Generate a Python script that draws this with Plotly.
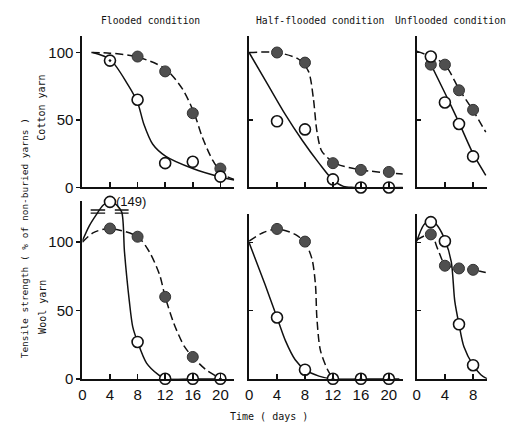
import plotly.graph_objects as go

W, H = 509, 430

# ---------------- data ----------------
# Panel A: flooded, cotton
A_open_x = [8, 12, 16, 20]
A_open_y = [65, 18, 19, 8]
A_fill_x = [8, 12, 16, 20]
A_fill_y = [97, 86, 55, 14]
A_both_x = [4]
A_both_y = [94]
A_solid_x = [1.5, 4, 6.5, 8, 8.9, 10.2, 12.1, 16, 19.8, 22]
A_solid_y = [100, 95, 77, 63, 47, 32, 23, 14, 8, 5.5]
A_dash_x = [1.3, 4, 7.8, 12, 14.5, 16.2, 17.4, 18.9, 20.3, 22]
A_dash_y = [100, 99.5, 97, 88, 73, 55, 37, 20, 10, 6]

# Panel B: half-flooded, cotton
B_open_x = [4, 8, 12, 16, 20]
B_open_y = [49, 43, 6, 0, 0]
B_fill_x = [4, 8, 12, 16, 20]
B_fill_y = [100, 92.5, 18, 13, 11.5]
B_solid_x = [0, 2.6, 5.2, 7.6, 10, 11.9, 13.5, 15, 22]
B_solid_y = [100, 77, 54, 35, 18, 6, 0.8, 0, 0]
B_dash_x = [0, 4, 7.1, 8.5, 9.2, 9.7, 10.4, 12.3, 16, 22]
B_dash_y = [100, 100, 95, 86, 66, 42, 27, 18, 13, 10]

# Panel C: unflooded, cotton
C_open_x = [2, 4, 6, 8]
C_open_y = [97, 63, 47, 23]
C_fill_x = [2, 4, 6, 8]
C_fill_y = [91, 91, 72, 57.5]
C_solid_x = [1.75, 4, 6, 8, 9.8]
C_solid_y = [94, 70, 48, 25, 9]
C_dash_x = [0, 2, 4, 6, 8, 9.8]
C_dash_y = [101, 97, 91, 73, 57, 41]

# Panel D: flooded, wool (open point at day 4 is 149, drawn at the axis top)
D_open_x = [4, 8, 12, 16]
D_open_y = [129.5, 27, 0, 0]
D_fill_x = [4, 8, 12, 16]
D_fill_y = [110, 104, 60, 16]
D_both_x = [20]
D_both_y = [0]
D_solid_x = [0, 1, 2, 3, 4, 5, 5.7, 6.1, 6.8, 7.3, 8, 9.3, 11, 12, 16, 20]
D_solid_y = [101, 112, 120, 127, 130, 127, 122, 93, 57, 38, 27, 11.5, 3, 0, 0, 0]
D_dash_x = [0, 1.6, 4, 8, 9.7, 11.2, 12, 13.3, 14.8, 16, 17.9, 19.7, 20]
D_dash_y = [100, 107, 110, 104, 93, 76, 60, 40, 23.5, 16, 6.7, 1, 0]
D_break_x = [[1.2, 3.3], [4.7, 6.7]]
D_break_y = [123.5, 121.3]
D_label = "(149)"

# Panel E: half-flooded, wool
E_open_x = [4, 8]
E_open_y = [45, 6.7]
E_fill_x = [4, 8]
E_fill_y = [110, 100.7]
E_both_x = [12, 16, 20]
E_both_y = [0, 0, 0]
E_solid_x = [0, 2.3, 4, 5.2, 6.6, 8, 10, 12, 16, 20, 21.5]
E_solid_y = [100, 69, 45, 28, 14, 6.7, 2, 0, 0, 0, 0]
E_dash_x = [0, 1.9, 4, 6.6, 8, 9, 9.5, 9.7, 10.2, 11.2, 12]
E_dash_y = [101, 107, 110, 106, 100, 88, 69, 45, 21, 7, 0]

# Panel F: unflooded, wool
F_open_x = [2, 4, 6, 8]
F_open_y = [115, 101, 40, 10]
F_fill_x = [2, 4, 6, 8]
F_fill_y = [106, 83, 81, 80]
F_solid_x = [0, 1, 2, 3, 4, 4.9, 5.4, 6, 6.7, 8, 9.1, 10]
F_solid_y = [101, 113, 117, 112, 102, 86, 57, 40, 23.5, 10, 3, 0]
F_dash_x = [0, 2, 3, 4, 6, 8, 9.8]
F_dash_y = [102, 106, 95, 84, 81, 80, 78]

titles = ["Flooded condition", "Half-flooded condition", "Unflooded condition"]
row_labels = ["Cotton yarn", "Wool yarn"]
y_title = "Tensile strength ( % of non-buried yarns )"
x_title = "Time ( days )"
y_ticks = [0, 50, 100]
x_ticks_long = [0, 4, 8, 12, 16, 20]
x_ticks_short = [0, 4, 8]

# ---------------- layout helpers (window pixel -> paper) ----------------
def px_x(p):
    return p / W

def px_y(p):
    return 1 - p / H

INK = "#111111"
FILL = "#4f4f4f"
MONO = "DejaVu Sans Mono"
SANS = "Liberation Sans"

fig = go.Figure()

panels = [
    ("A", "", A_open_x, A_open_y, A_fill_x, A_fill_y, A_both_x, A_both_y, A_solid_x, A_solid_y, A_dash_x, A_dash_y),
    ("B", "2", B_open_x, B_open_y, B_fill_x, B_fill_y, [], [], B_solid_x, B_solid_y, B_dash_x, B_dash_y),
    ("C", "3", C_open_x, C_open_y, C_fill_x, C_fill_y, [], [], C_solid_x, C_solid_y, C_dash_x, C_dash_y),
    ("D", "4", D_open_x, D_open_y, D_fill_x, D_fill_y, D_both_x, D_both_y, D_solid_x, D_solid_y, D_dash_x, D_dash_y),
    ("E", "5", E_open_x, E_open_y, E_fill_x, E_fill_y, E_both_x, E_both_y, E_solid_x, E_solid_y, E_dash_x, E_dash_y),
    ("F", "6", F_open_x, F_open_y, F_fill_x, F_fill_y, [], [], F_solid_x, F_solid_y, F_dash_x, F_dash_y),
]

for (name, s, ox, oy, fx, fy, bx, by, sx, sy, dx, dy) in panels:
    xa, ya = "x" + s, "y" + s
    fig.add_trace(go.Scatter(x=sx, y=sy, mode="lines", xaxis=xa, yaxis=ya,
                             line=dict(color=INK, width=1.5, shape="spline", smoothing=0.8),
                             showlegend=False, hoverinfo="skip"))
    fig.add_trace(go.Scatter(x=dx, y=dy, mode="lines", xaxis=xa, yaxis=ya,
                             line=dict(color=INK, width=1.5, dash="8px,4px", shape="spline", smoothing=0.8),
                             showlegend=False, hoverinfo="skip"))
    if name == "D":
        bxs, bys = [], []
        for seg in D_break_x:
            for yv in D_break_y:
                bxs += [seg[0], seg[1], None]
                bys += [yv, yv, None]
        fig.add_trace(go.Scatter(x=bxs, y=bys, mode="lines", xaxis=xa, yaxis=ya,
                                 line=dict(color=INK, width=1.4), showlegend=False,
                                 hoverinfo="skip", cliponaxis=False))
    fig.add_trace(go.Scatter(x=fx, y=fy, mode="markers", xaxis=xa, yaxis=ya, cliponaxis=False,
                             marker=dict(symbol="circle", size=11, color=FILL,
                                         line=dict(color="#333333", width=1)),
                             showlegend=False))
    fig.add_trace(go.Scatter(x=ox, y=oy, mode="markers", xaxis=xa, yaxis=ya, cliponaxis=False,
                             marker=dict(symbol="circle", size=11, color="white",
                                         line=dict(color=INK, width=1.6)),
                             showlegend=False))
    if bx:
        fig.add_trace(go.Scatter(x=bx, y=by, mode="markers", xaxis=xa, yaxis=ya, cliponaxis=False,
                                 marker=dict(symbol="circle-dot", size=11, color="white",
                                             line=dict(color=INK, width=1.6)),
                                 showlegend=False))

# ---------------- axes ----------------
xdom = [[79, 232], [247, 402], [416, 487]]
xrng = [[0, 22], [0, 22], [0, 10]]
top_dom = [37, 191]
bot_doms = [[205, 386], [218, 386], [218, 386]]
bot_rng = [[0, 130], [0, 121], [0, 121]]

def axis_common():
    return dict(showline=True, linecolor=INK, linewidth=2, showgrid=False, zeroline=False,
                mirror=False, fixedrange=True)

layout = {}
for i in range(6):
    col = i % 3
    row = i // 3
    s = "" if i == 0 else str(i + 1)
    xk, yk = "xaxis" + s, "yaxis" + s
    xa = axis_common()
    xa.update(domain=[px_x(xdom[col][0]), px_x(xdom[col][1])], range=xrng[col],
              anchor="y" + s, ticks="inside", ticklen=5, tickwidth=1.5, tickcolor=INK)
    xt = x_ticks_short if col == 2 else x_ticks_long
    xa.update(tickvals=xt, ticktext=[str(v) for v in xt])
    if row == 1:
        xa.update(showticklabels=True, tickfont=dict(family=SANS, size=15, color=INK),
                  ticklabelstandoff=1)
    else:
        xa.update(showticklabels=False)
    ya = axis_common()
    if row == 0:
        ya.update(domain=[px_y(top_dom[1]), px_y(top_dom[0])], range=[0, 112])
    else:
        d = bot_doms[col]
        ya.update(domain=[px_y(d[1]), px_y(d[0])], range=bot_rng[col])
    ya.update(anchor="x" + s)
    if col == 0:
        ya.update(tickvals=y_ticks, ticktext=[str(v) for v in y_ticks], ticks="outside",
                  ticklen=4, tickwidth=1.5, tickcolor=INK, showticklabels=True,
                  tickfont=dict(family=SANS, size=15, color=INK), ticklabelstandoff=0)
    else:
        ya.update(tickvals=y_ticks[1:], ticks="inside", ticklen=4, tickwidth=1.5,
                  tickcolor=INK, showticklabels=False)
    layout[xk] = xa
    layout[yk] = ya

annotations = []
title_cx = [148, 318, 450]
for t, cx in zip(titles, title_cx):
    annotations.append(dict(text=t, x=px_x(cx), y=px_y(21), xref="paper", yref="paper",
                            showarrow=False, xanchor="center", yanchor="middle",
                            font=dict(family=MONO, size=9.7, color=INK)))
annotations.append(dict(text=row_labels[0], x=px_x(38), y=px_y(110), xref="paper", yref="paper",
                        showarrow=False, textangle=-90, xanchor="center", yanchor="middle",
                        font=dict(family=MONO, size=10, color=INK)))
annotations.append(dict(text=row_labels[1], x=px_x(38), y=px_y(313), xref="paper", yref="paper",
                        showarrow=False, textangle=-90, xanchor="center", yanchor="middle",
                        font=dict(family=MONO, size=10, color=INK)))
annotations.append(dict(text=y_title, x=px_x(21), y=px_y(243), xref="paper", yref="paper",
                        showarrow=False, textangle=-90, xanchor="center", yanchor="middle",
                        font=dict(family=MONO, size=9.5, color=INK)))
annotations.append(dict(text=x_title, x=px_x(267), y=px_y(424), xref="paper", yref="paper",
                        showarrow=False, xanchor="center", yanchor="middle",
                        font=dict(family=MONO, size=10, color=INK)))
annotations.append(dict(text=D_label, x=D_open_x[0] + 0.6, y=D_open_y[0] + 0.5, xref="x4", yref="y4",
                        showarrow=False, xanchor="left", yanchor="middle",
                        font=dict(family=SANS, size=13, color=INK)))

fig.update_layout(width=W, height=H, margin=dict(l=0, r=0, t=0, b=0),
                  paper_bgcolor="white", plot_bgcolor="white", showlegend=False,
                  hovermode=False, annotations=annotations, **layout)

# remove the default page margin so the 509x430 figure fills the window exactly
fig.write_html("out.html",
               config={"displayModeBar": False, "staticPlot": True},
               post_script="document.body.style.margin='0';document.body.style.overflow='hidden';")
